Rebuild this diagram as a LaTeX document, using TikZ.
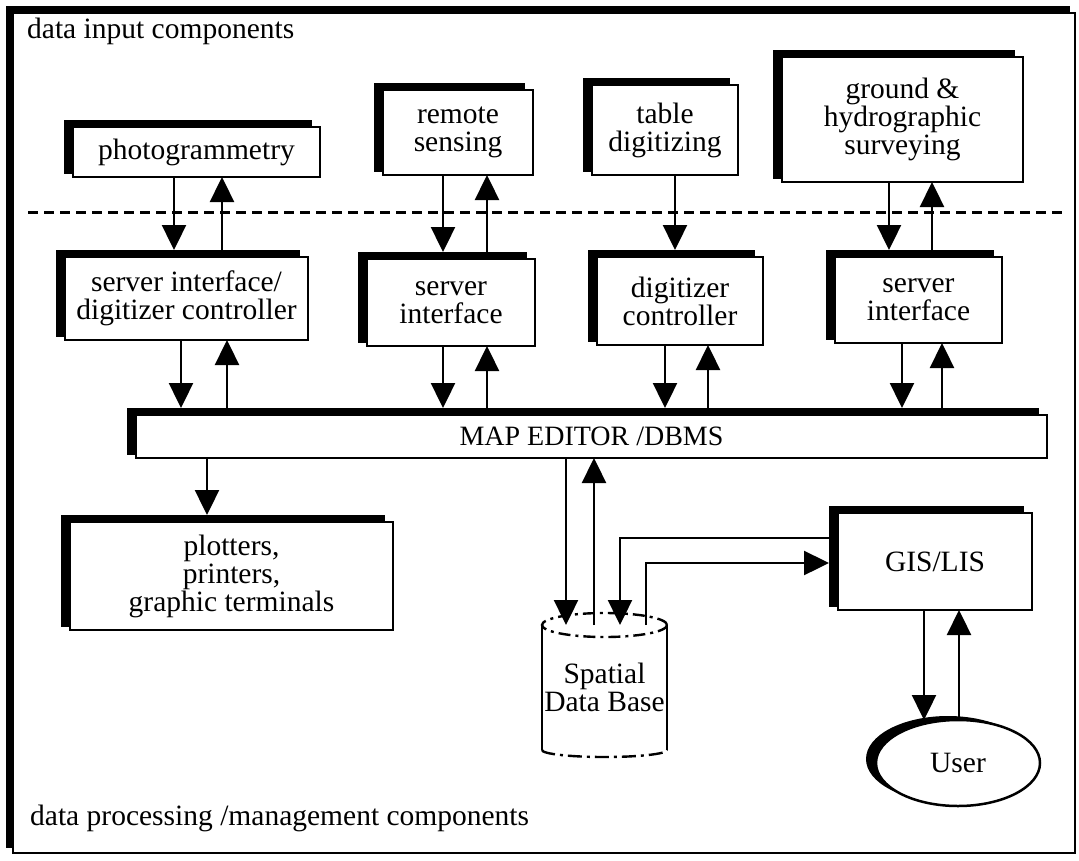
\documentclass[tikz,border=0pt]{standalone}
\usepackage{fontspec}
\setmainfont{Liberation Serif}
\usetikzlibrary{arrows.meta,shapes.geometric,calc}
\newcommand\txt{\fontsize{29.5}{28}\selectfont}
\tikzset{
 box/.style={draw, line width=2.5pt, fill=white, inner sep=0pt, outer sep=0pt, align=center, font=\txt},
 arr/.style={line width=2.4pt, -{Triangle[length=25pt,width=24pt]}},
 ln/.style={line width=2.4pt},
}
\newcommand\shadowbox[6]{%
  \fill (#2-9,#3-7) rectangle (#4-8,#5-3);
  \coordinate (#1s) at (#2-9,#3-7);
  \node[box, minimum width={(#4-#2)*1pt}, minimum height={(#5-#3)*1pt}] (#1) at ({(#2+#4)/2},{(#3+#5)/2}) {#6};
}
\begin{document}
\begin{tikzpicture}[x=1pt,y=-1pt]
\useasboundingbox (0,0) rectangle (1079,860);
% outer frame
\fill (6,6) rectangle (1070,848);
\draw[line width=2pt, fill=white] (13,13) rectangle (1075,853);
\node[anchor=base west, font=\txt, inner sep=0pt] (tin) at (27,38) {data input components};
\node[anchor=base west, font=\txt, inner sep=0pt] (tproc) at (30,825) {data processing /management components};
% dashed separator
\draw[line width=3pt, dash pattern=on 10pt off 6pt] (28,212) -- (1062,212);
% boxes
\shadowbox{photo}{73}{127}{320}{177}{photogrammetry}
\shadowbox{remote}{383}{90}{533}{175}{remote\\sensing}
\shadowbox{table}{592}{85}{738}{175}{table\\digitizing}
\shadowbox{ground}{782}{57}{1023}{182}{ground \&\\hydrographic\\surveying}
\shadowbox{si1}{65}{257}{308}{340}{server interface/\\digitizer controller}
\shadowbox{si2}{367}{259}{535}{346}{server\\interface}
\shadowbox{dc}{597}{257}{763}{345}{digitizer\\controller}
\shadowbox{si3}{835}{257}{1002}{343}{server\\interface}
\shadowbox{map}{136}{415}{1047}{458}{\fontsize{28}{28}\selectfont MAP EDITOR /DBMS}
\shadowbox{plot}{70}{522}{393}{630}{plotters,\\printers,\\graphic terminals}
\shadowbox{gis}{838}{513}{1032}{610}{GIS/LIS}
% cylinder
\draw[ln] (542,625) -- (542,750);
\draw[ln] (667,625) -- (667,750);
\draw[ln, dash pattern=on 12pt off 5pt on 3pt off 5pt] (604.5,625) ellipse [x radius=62.5pt, y radius=12pt];
\draw[ln, dash pattern=on 14pt off 5pt on 3pt off 5pt] (542,750) arc[start angle=180, end angle=360, x radius=62.5pt, y radius=7pt];
\node[font=\txt, align=center, minimum width=125pt, minimum height=125pt, inner sep=0pt, outer sep=0pt] (cyl) at (604.5,687.5) {Spatial\\Data Base};
% user
\fill (948,759) ellipse [x radius=82pt, y radius=43pt];
\node[ellipse, draw, line width=2.5pt, fill=white, minimum width=164pt, minimum height=86pt, inner sep=0pt, outer sep=0pt, font=\txt] (user) at (958,763) {User};
% connectors
\draw[arr] (174,0 |- photo.south) -- (174,0 |- si1s);
\draw[arr] (222,0 |- si1s) -- (222,0 |- photo.south);
\draw[arr] (443,0 |- remote.south) -- (443,0 |- si2s);
\draw[arr] (487,0 |- si2s) -- (487,0 |- remote.south);
\draw[arr] (675,0 |- table.south) -- (675,0 |- dcs);
\draw[arr] (889,0 |- ground.south) -- (889,0 |- si3s);
\draw[arr] (932,0 |- si3s) -- (932,0 |- ground.south);
\draw[arr] (181,0 |- si1.south) -- (181,0 |- maps);
\draw[arr] (227,0 |- maps) -- (227,0 |- si1.south);
\draw[arr] (443,0 |- si2.south) -- (443,0 |- maps);
\draw[arr] (487,0 |- maps) -- (487,0 |- si2.south);
\draw[arr] (665,0 |- dc.south) -- (665,0 |- maps);
\draw[arr] (708,0 |- maps) -- (708,0 |- dc.south);
\draw[arr] (902,0 |- si3.south) -- (902,0 |- maps);
\draw[arr] (942,0 |- maps) -- (942,0 |- si3.south);
\draw[arr] (207,0 |- map.south) -- (207,0 |- plots);
\draw[arr] (566,0 |- map.south) -- (566,0 |- cyl.north);
\draw[arr] (594,0 |- cyl.north) -- (594,0 |- map.south);
\draw[arr] (giss |- 0,538) -| (620,0 |- cyl.north);
\draw[arr] (646,0 |- cyl.north) |- (giss |- 0,563);
\draw[arr] (924,0 |- gis.south) -- (924,0 |- user.north);
\draw[arr] (959,0 |- user.north) -- (959,0 |- gis.south);
\end{tikzpicture}
\end{document}
